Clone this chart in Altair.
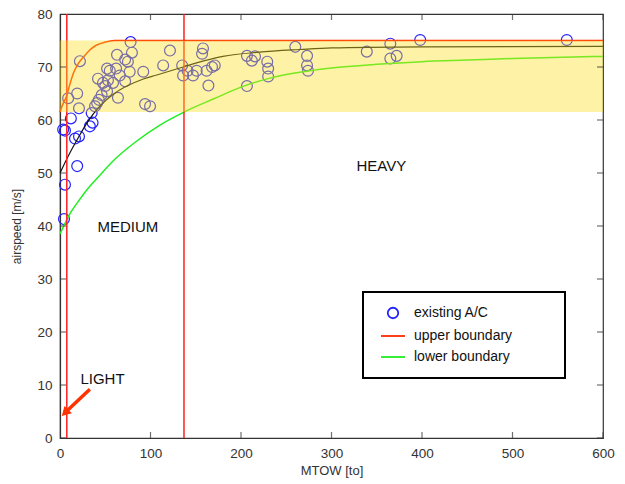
import altair as alt
import pandas as pd

# ---- data ----
ac_x = [4.4, 5.5, 3.5, 5.5, 12, 19, 16.6, 21, 22, 9, 19, 21, 33, 36, 35, 38.7, 41, 43,
        46, 52, 50, 53, 58.6, 42, 47.5, 52, 55, 62, 63, 72, 66, 72, 64, 77, 79.5, 78, 75,
        92, 94, 99.5, 121.5, 114, 135, 136, 141, 147, 151, 157, 158, 162, 164, 168, 171,
        206.6, 212, 215.5, 206.6, 229, 230, 230, 260, 273, 273, 274, 339, 365, 365, 372,
        398, 560]
ac_y = [41.3, 47.8, 58.2, 58.0, 60.3, 51.3, 56.5, 56.9, 71.1, 64.1, 65.0, 62.2, 58.8, 59.5, 61.3, 62.6, 63.2, 63.8,
        64.7, 65.4, 66.4, 67.5, 67.0, 67.8, 67.0, 69.7, 69.3, 69.7, 72.3, 71.4, 68.4, 67.3, 64.2, 69.1, 72.7, 74.7, 71.0,
        69.1, 63.0, 62.6, 73.1, 70.3, 70.3, 68.4, 69.3, 68.4, 69.3, 72.5, 73.5, 69.3, 66.5, 70.0, 70.3,
        72.1, 71.2, 72.0, 66.4, 71.0, 69.7, 68.2, 73.8, 72.1, 70.3, 69.3, 72.9, 74.4, 71.6, 72.1,
        75.1, 75.1]

upper_x = [0, 2, 4, 7, 10, 15, 20, 26, 33, 40, 50, 60, 600]
upper_y = [61.5, 62.5, 63.3, 64.4, 66.2, 68.9, 70.6, 71.9, 73.2, 74.1, 74.7, 75.0, 75.0]

mid_x = [0, 10, 20, 30, 44, 60, 75, 90, 107, 136, 160, 180, 220, 265, 300, 400, 600]
mid_y = [50.0, 53.5, 56.6, 59.5, 62.6, 65.0, 66.5, 67.6, 68.5, 70.0, 71.2, 72.0, 72.8, 73.3, 73.6, 73.8, 73.9]

lower_x = [0, 5, 12, 20, 30, 42, 60, 83, 110, 137, 170, 200, 232, 265, 300, 350, 400, 450, 500, 600]
lower_y = [38.5, 40.3, 42.6, 44.6, 46.9, 49.2, 52.5, 55.8, 59.0, 61.5, 64.0, 66.2, 67.9, 69.0, 69.8, 70.5, 71.0, 71.3, 71.6, 72.0]

region_x = [7.5, 137]
band_lo, band_hi = 61.5, 75

x_ticks = [0, 100, 200, 300, 400, 500, 600]
y_ticks = [0, 10, 20, 30, 40, 50, 60, 70, 80]

labels = ["LIGHT", "MEDIUM", "HEAVY"]
label_x = [47, 75, 355]
label_y = [11.2, 39.8, 51.4]

arrow_x = [33, 5.5]
arrow_y = [9.2, 4.75]
arrow_head_x = [5.5]
arrow_head_y = [4.75]

legend_names = ["existing A/C", "upper boundary", "lower boundary"]
legend_colors = ["#2222ff", "#ff2a00", "#22ee22"]

FONT = "Liberation Sans"
W, H = 543, 424

xs = alt.Scale(domain=[0, 600], nice=False, zero=False)
ys = alt.Scale(domain=[0, 80], nice=False, zero=False)

ax_x = alt.Axis(title="MTOW [to]", values=x_ticks, ticks=False, grid=False,
                labelPadding=8, labelFontSize=13.5, labelColor="#333", labelFont=FONT,
                titleFontSize=13, titleColor="#333", titleFont=FONT, titleFontWeight="normal",
                titlePadding=5, domainColor="#333", domainWidth=1.2, labelFlush=False)
ax_y = alt.Axis(title="airspeed [m/s]", values=y_ticks, ticks=False, grid=False,
                labelPadding=8, labelFontSize=13.5, labelColor="#333", labelFont=FONT,
                titleFontSize=12, titleColor="#333", titleFont=FONT, titleFontWeight="normal",
                titlePadding=13, domainColor="#333", domainWidth=1.2, labelFlush=False)

X = alt.X("x:Q", scale=xs, axis=ax_x)
Y = alt.Y("y:Q", scale=ys, axis=ax_y)

df_ac = pd.DataFrame({"x": ac_x, "y": ac_y})
points = alt.Chart(df_ac).mark_point(shape="circle", filled=False, size=118,
                                     strokeWidth=1.2, color="#2222ff", opacity=1).encode(x=X, y=Y)

def curve(xv, yv, color, sw=1.4):
    return alt.Chart(pd.DataFrame({"x": xv, "y": yv})).mark_line(
        color=color, strokeWidth=sw, interpolate="monotone").encode(x="x:Q", y="y:Q")

upper = curve(upper_x, upper_y, "#ff2a00", 1.5)
mid = curve(mid_x, mid_y, "#111111", 1.2)
lower = curve(lower_x, lower_y, "#22ee22", 1.5)

regions = alt.Chart(pd.DataFrame({"x": region_x})).mark_rule(
    color="#ff2020", strokeWidth=1.5).encode(x="x:Q")

band = alt.Chart(pd.DataFrame({"x": [0], "x2": [600], "y": [band_lo], "y2": [band_hi]})).mark_rect(
    color="#fade1e", opacity=0.4).encode(x="x:Q", x2="x2:Q", y="y:Q", y2="y2:Q")

texts = alt.Chart(pd.DataFrame({"x": label_x, "y": label_y, "t": labels})).mark_text(
    font=FONT, fontSize=15, color="#111", align="center", baseline="middle").encode(
    x="x:Q", y="y:Q", text="t:N")

arrow = alt.Chart(pd.DataFrame({"x": arrow_x, "y": arrow_y})).mark_line(
    color="#ff3300", strokeWidth=3.5).encode(x="x:Q", y="y:Q")
arrow_head = alt.Chart(pd.DataFrame({"x": arrow_head_x, "y": arrow_head_y})).mark_point(
    shape="triangle-up", filled=True, size=110, angle=225, color="#ff3300", opacity=1).encode(
    x="x:Q", y="y:Q")

# inward ticks on all four sides
df_xt = pd.DataFrame({"x": x_ticks})
df_yt = pd.DataFrame({"y": y_ticks})
tick_b = alt.Chart(df_xt).mark_tick(orient="vertical", clip=True, size=12, thickness=1.2,
                                    color="#333").encode(x="x:Q", y=alt.datum(0))
tick_t = alt.Chart(df_xt).mark_tick(orient="vertical", clip=True, size=12, thickness=1.2,
                                    color="#333").encode(x="x:Q", y=alt.datum(80))
tick_l = alt.Chart(df_yt).mark_tick(orient="horizontal", clip=True, size=12, thickness=1.2,
                                    color="#333").encode(y="y:Q", x=alt.datum(0))
tick_r = alt.Chart(df_yt).mark_tick(orient="horizontal", clip=True, size=12, thickness=1.2,
                                    color="#333").encode(y="y:Q", x=alt.datum(600))

# legend (trailing no-break spaces, closed by a zero-width char so they are not trimmed)
NB = "\u00a0" * 10 + "\u200b"
leg = alt.Legend(title=None, orient="none", legendX=303, legendY=278, padding=14,
                 strokeColor="black", fillColor="white", labelFont=FONT, labelFontSize=14,
                 labelColor="#111", labelOffset=8, symbolOffset=3, rowPadding=1,
                 symbolStrokeWidth=1.8, symbolOpacity=1, labelLimit=300,
                 labelExpr="datum.label + '" + NB + "'")
df_leg = pd.DataFrame({"series": legend_names, "x": [0, 0, 0], "y": [0, 0, 0]})
legend_layer = alt.Chart(df_leg).mark_point(filled=False, opacity=0).encode(
    x="x:Q", y="y:Q",
    color=alt.Color("series:N", scale=alt.Scale(domain=legend_names, range=legend_colors), legend=leg),
    shape=alt.Shape("series:N", scale=alt.Scale(domain=legend_names, range=["circle", "stroke", "stroke"]), legend=leg),
    size=alt.Size("series:N", scale=alt.Scale(type="ordinal", domain=legend_names, range=[110, 576, 576]), legend=leg),
)

chart = alt.layer(
    points, mid, lower, upper, regions, band, texts, arrow, arrow_head,
    tick_b, tick_t, tick_l, tick_r, legend_layer
).properties(
    width=W, height=H,
    autosize=alt.AutoSizeParams(type="none"),
    padding={"left": 52, "top": 6, "right": 14, "bottom": 44},
).configure_view(stroke="#333", strokeWidth=1.2).configure_legend(strokeWidth=2)

chart.save("out.html", embed_options={"renderer": "svg", "actions": False})
